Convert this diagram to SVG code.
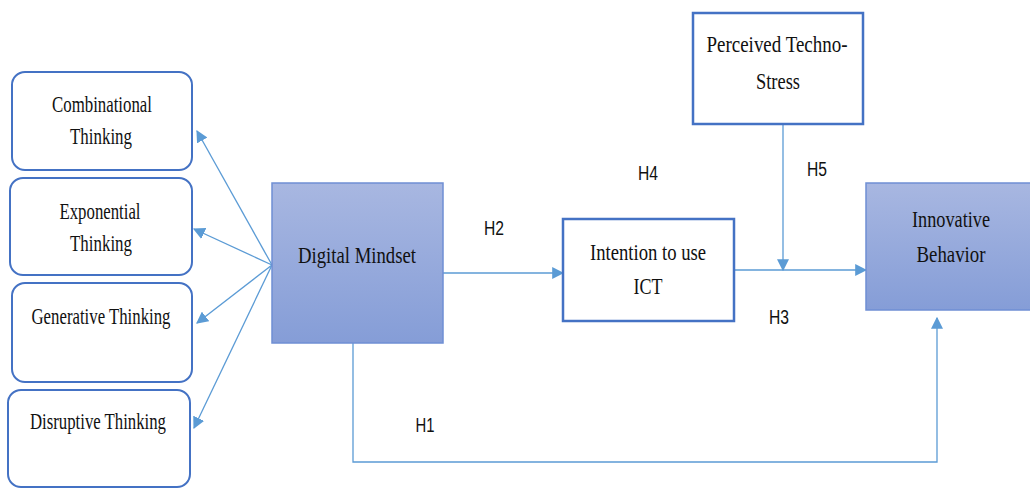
<svg xmlns="http://www.w3.org/2000/svg" width="1030" height="489" viewBox="0 0 1030 489">
<defs>
<linearGradient id="g" x1="0" y1="0" x2="0" y2="1">
<stop offset="0" stop-color="#a8b7e1"/>
<stop offset="1" stop-color="#859dd7"/>
</linearGradient>
<marker id="ah" viewBox="0 0 10 10" refX="9" refY="5" markerWidth="12" markerHeight="12" markerUnits="userSpaceOnUse" orient="auto">
<path d="M0,0 L10,5 L0,10 z" fill="#5b9bd5"/>
</marker>
<style>
.rb{fill:#fff;stroke:#4472c4;stroke-width:2}
.sb{fill:#fff;stroke:#4472c4;stroke-width:2.5}
.gb{fill:url(#g);stroke:#6f8fd4;stroke-width:1.5}
.t{font-family:"Liberation Serif","Times New Roman",serif;font-size:24px;fill:#111;text-anchor:middle}
.h{font-family:"Liberation Sans",Arial,sans-serif;font-size:20px;fill:#111;text-anchor:middle}
.c{fill:none;stroke:#5b9bd5;stroke-width:1.3}
</style>
</defs>
<g id="connectors">
<line class="c" x1="272" y1="265" x2="197" y2="131" marker-end="url(#ah)"/>
<line class="c" x1="272" y1="265" x2="194" y2="229" marker-end="url(#ah)"/>
<line class="c" x1="272" y1="265" x2="197" y2="323" marker-end="url(#ah)"/>
<line class="c" x1="272" y1="265" x2="194" y2="428" marker-end="url(#ah)"/>
<line class="c" x1="443" y1="273" x2="563" y2="273" marker-end="url(#ah)"/>
<line class="c" x1="734" y1="270" x2="866" y2="270" marker-end="url(#ah)"/>
<line class="c" x1="783" y1="124" x2="783" y2="270" marker-end="url(#ah)"/>
<polyline class="c" points="353,343 353,462 937,462 937,318" marker-end="url(#ah)"/>
</g>
<g id="combinational">
<rect class="rb" x="12" y="72" width="180" height="98" rx="13"/>
<text class="t" x="102" y="112" textLength="100" lengthAdjust="spacingAndGlyphs">Combinational</text>
<text class="t" x="101" y="144" textLength="62" lengthAdjust="spacingAndGlyphs">Thinking</text>
</g>
<g id="exponential">
<rect class="rb" x="10" y="178" width="182" height="97" rx="13"/>
<text class="t" x="100" y="219" textLength="81" lengthAdjust="spacingAndGlyphs">Exponential</text>
<text class="t" x="101" y="251" textLength="62" lengthAdjust="spacingAndGlyphs">Thinking</text>
</g>
<g id="generative">
<rect class="rb" x="12" y="283" width="180" height="99" rx="13"/>
<text class="t" x="101" y="324" textLength="139" lengthAdjust="spacingAndGlyphs">Generative Thinking</text>
</g>
<g id="disruptive">
<rect class="rb" x="8" y="390" width="182" height="97" rx="13"/>
<text class="t" x="98" y="429" textLength="136" lengthAdjust="spacingAndGlyphs">Disruptive Thinking</text>
</g>
<g id="digital-mindset">
<rect class="gb" x="272" y="183" width="171" height="160"/>
<text class="t" x="357" y="263" textLength="118" lengthAdjust="spacingAndGlyphs">Digital Mindset</text>
</g>
<g id="intention">
<rect class="sb" x="563" y="219" width="171" height="102"/>
<text class="t" x="648" y="260" textLength="116" lengthAdjust="spacingAndGlyphs">Intention to use</text>
<text class="t" x="648" y="294" textLength="29" lengthAdjust="spacingAndGlyphs">ICT</text>
</g>
<g id="techno-stress">
<rect class="sb" x="693" y="13" width="170" height="111"/>
<text class="t" x="777" y="52" textLength="141" lengthAdjust="spacingAndGlyphs">Perceived Techno-</text>
<text class="t" x="778" y="89" textLength="44" lengthAdjust="spacingAndGlyphs">Stress</text>
</g>
<g id="innovative">
<rect class="gb" x="866" y="183" width="170" height="127"/>
<text class="t" x="951" y="227" textLength="78" lengthAdjust="spacingAndGlyphs">Innovative</text>
<text class="t" x="951" y="262" textLength="69" lengthAdjust="spacingAndGlyphs">Behavior</text>
</g>
<g id="labels">
<text class="h" x="494" y="235" textLength="20" lengthAdjust="spacingAndGlyphs">H2</text>
<text class="h" x="648" y="180" textLength="20" lengthAdjust="spacingAndGlyphs">H4</text>
<text class="h" x="817" y="176" textLength="20" lengthAdjust="spacingAndGlyphs">H5</text>
<text class="h" x="779" y="324" textLength="20" lengthAdjust="spacingAndGlyphs">H3</text>
<text class="h" x="425" y="432" textLength="19" lengthAdjust="spacingAndGlyphs">H1</text>
</g>
</svg>
